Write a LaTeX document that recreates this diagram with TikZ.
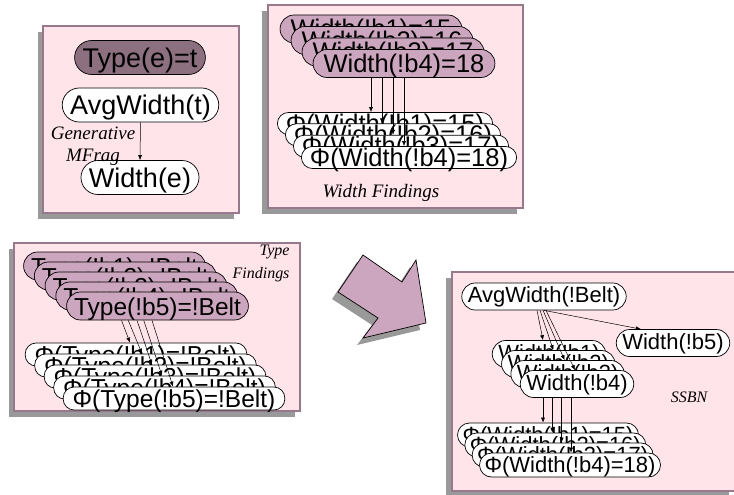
\documentclass[tikz,border=0pt]{standalone}
\usepackage{fontspec}
\setmainfont{Liberation Sans}
\newfontfamily\notefont{Liberation Serif}
\usetikzlibrary{calc}
\usetikzlibrary{arrows.meta}

\definecolor{panelpink}{RGB}{255,228,234}
\definecolor{panelline}{RGB}{150,122,140}
\definecolor{darkmauve}{RGB}{140,112,128}
\definecolor{mauve}{RGB}{204,166,190}
\definecolor{shadowgrey}{RGB}{153,153,153}

\begin{document}
\begin{tikzpicture}[x=1pt,y=-1pt,
            >={Latex[length=5pt,width=4pt]},
            panel/.style={draw=panelline,fill=panelpink,line width=1.2pt},
            panel shadow/.style={fill=shadowgrey},
            main node/.style={draw,fill=white,line width=0.7pt,inner ysep=0pt},
            frag node/.style={main node,rounded corners=17pt,inner xsep=8pt,text height=26.5pt,text depth=7.5pt,font=\fontsize{27}{30}\selectfont},
            wfind node/.style={main node,fill=mauve,rounded corners=14pt,inner xsep=10.5pt,text height=23pt,text depth=5pt,font=\fontsize{25.5}{28}\selectfont},
            wphi node/.style={main node,rounded corners=11pt,inner xsep=8.5pt,text height=19.5pt,text depth=2.5pt,font=\fontsize{25.5}{28}\selectfont},
            tfind node/.style={main node,fill=mauve,rounded corners=14pt,inner xsep=7.5pt,text height=23.5pt,text depth=4.5pt,font=\fontsize{24.5}{28}\selectfont},
            tphi node/.style={main node,rounded corners=11pt,inner xsep=9.5pt,text height=20.5pt,text depth=2.5pt,font=\fontsize{24.5}{28}\selectfont},
            ssbn node/.style={main node,rounded corners=13.5pt,inner xsep=6pt,text height=19.5pt,text depth=7.5pt,font=\fontsize{22}{26}\selectfont},
            sphi node/.style={main node,rounded corners=12pt,inner xsep=5pt,text height=19pt,text depth=5pt,font=\fontsize{22}{26}\selectfont},
            note/.style={font=\notefont\itshape\fontsize{19}{22}\selectfont,align=center},
            small note/.style={font=\notefont\itshape\fontsize{16}{23}\selectfont},
            link/.style={->,line width=0.5pt},
            ]
            \useasboundingbox (0,0) rectangle (734,495);

            % generative MFrag
            \fill[panel shadow] (38,32) rectangle (234,219);
            \draw[panel] (43,26) rectangle (239,213);
            \node[frag node, fill=darkmauve] (type) at (140,57.5) {Type(e)=t};
            \node[frag node] (avgt) at (140.5,105) {AvgWidth(t)};
            \node[frag node] (we) at (140,177.5) {Width(e)};
            \node[note] (gen) at (93,146) {Generative\\MFrag};
            \draw[link] (avgt.south) -- (we.north);

            % width findings
            \fill[panel shadow] (262,11) rectangle (517,214);
            \draw[panel] (268,5) rectangle (523,208);
            \node[wfind node] (wu1) at (371,29) {Width(!b1)=15};
            \node[wfind node] (wu2) at (382,40.5) {Width(!b2)=16};
            \node[wfind node] (wu3) at (393,52) {Width(!b3)=17};
            \node[wfind node] (wu4) at (404,63.5) {Width(!b4)=18};
            \node[wphi node] (wt1) at (385,123.5) {Φ(Width(!b1)=15)};
            \node[wphi node] (wt2) at (393,134.8) {Φ(Width(!b2)=16)};
            \node[wphi node] (wt3) at (401,146.2) {Φ(Width(!b3)=17)};
            \node[wphi node] (wt4) at (409,157.5) {Φ(Width(!b4)=18)};
            \draw[link] (wu1 |- wu4.south) -- (wu1 |- wt1.north);
            \draw[link] (wu2 |- wu4.south) -- (wu2 |- wt2.north);
            \draw[link] (wu3 |- wu4.south) -- (wu3 |- wt3.north);
            \draw[link] (wu4.south) -- (wu4 |- wt4.north);
            \node[note] (wfind) at (381,193) {Width Findings};

            % type findings
            \fill[panel shadow] (9,249) rectangle (295,417);
            \draw[panel] (14,243) rectangle (300,411);
            \node[tfind node] (tu1) at (114.5,266) {Type(!b1)=!Belt};
            \node[tfind node] (tu2) at (125.25,276) {Type(!b2)=!Belt};
            \node[tfind node] (tu3) at (136,286) {Type(!b3)=!Belt};
            \node[tfind node] (tu4) at (146.75,296) {Type(!b4)=!Belt};
            \node[tfind node] (tu5) at (157.5,306) {Type(!b5)=!Belt};
            \node[tphi node] (tt1) at (136,354.5) {Φ(Type(!b1)=!Belt)};
            \node[tphi node] (tt2) at (145.5,365.5) {Φ(Type(!b2)=!Belt)};
            \node[tphi node] (tt3) at (155,376.5) {Φ(Type(!b3)=!Belt)};
            \node[tphi node] (tt4) at (164.5,387.5) {Φ(Type(!b4)=!Belt)};
            \node[tphi node] (tt5) at (174,398.5) {Φ(Type(!b5)=!Belt)};
            \draw[link] ($(tu1 |- tu5.south)+(7,0)$) -- ($(tt1.north)+(-6,0)$);
            \draw[link] ($(tu2 |- tu5.south)+(3,0)$) -- ($(tt2.north)+(-3.5,0)$);
            \draw[link] ($(tu3 |- tu5.south)+(1,0)$) -- ($(tt3.north)+(-3,0)$);
            \draw[link] ($(tu4 |- tu5.south)+(-3,0)$) -- ($(tt4.north)+(-2.5,0)$);
            \draw[link] ($(tu5.south)+(-5.5,0)$) -- ($(tt5.north)+(-1,0)$);
            \node[small note, anchor=east, align=right] (tfind) at (293,263.5) {Type\\Findings};

            % big arrow
            \fill[shadowgrey] (332,299) -- (357,262) -- (396,289) -- (410,267) -- (420,330) -- (357,345) -- (372,325) -- cycle;
            \draw[fill=mauve, line width=0.7pt] (338,292) -- (363,255) -- (402,282) -- (416,260) -- (426,323) -- (363,338) -- (378,318) -- cycle;

            % SSBN
            \fill[panel shadow] (446,278) rectangle (729,497);
            \draw[panel] (452,272) rectangle (736,491);
            \node[ssbn node] (avg) at (544,296.5) {AvgWidth(!Belt)};
            \node[ssbn node] (wb5) at (673,343) {Width(!b5)};
            \node[ssbn node] (sw1) at (549,354) {Width(!b1)};
            \node[ssbn node] (sw2) at (558.3,364) {Width(!b2)};
            \node[ssbn node] (sw3) at (567.6,374) {Width(!b3)};
            \node[ssbn node] (sw4) at (577,384) {Width(!b4)};
            \node[sphi node] (st1) at (548,435) {Φ(Width(!b1)=15)};
            \node[sphi node] (st2) at (555.3,445) {Φ(Width(!b2)=16)};
            \node[sphi node] (st3) at (562.6,455) {Φ(Width(!b3)=17)};
            \node[sphi node] (st4) at (570,465) {Φ(Width(!b4)=18)};
            \draw[link] ($(avg.south)+(-7,0)$) -- ($(sw1.north)+(-6,0)$);
            \draw[link] ($(avg.south)+(-4,0)$) -- ($(sw2.north)+(-5,0)$);
            \draw[link] ($(avg.south)+(-1,0)$) -- ($(sw3.north)+(-3,0)$);
            \draw[link] ($(avg.south)+(2,0)$) -- ($(sw4.north)+(-2,0)$);
            \draw[link] ($(avg.south)+(0,0)$) -- ($(wb5.north west)+(25,0)$);
            \draw[link] ($(sw1 |- sw4.south)+(-6,0)$) -- ($(sw1 |- st1.north)+(-6,0)$);
            \draw[link] ($(sw2 |- sw4.south)+(-6,0)$) -- ($(sw2 |- st2.north)+(-6,0)$);
            \draw[link] ($(sw3 |- sw4.south)+(-6,0)$) -- ($(sw3 |- st3.north)+(-6,0)$);
            \draw[link] ($(sw4.south)+(-6,0)$) -- ($(sw4 |- st4.north)+(-6,0)$);
            \node[small note] (ssbn) at (689,397) {SSBN};
        \end{tikzpicture}
\end{document}
